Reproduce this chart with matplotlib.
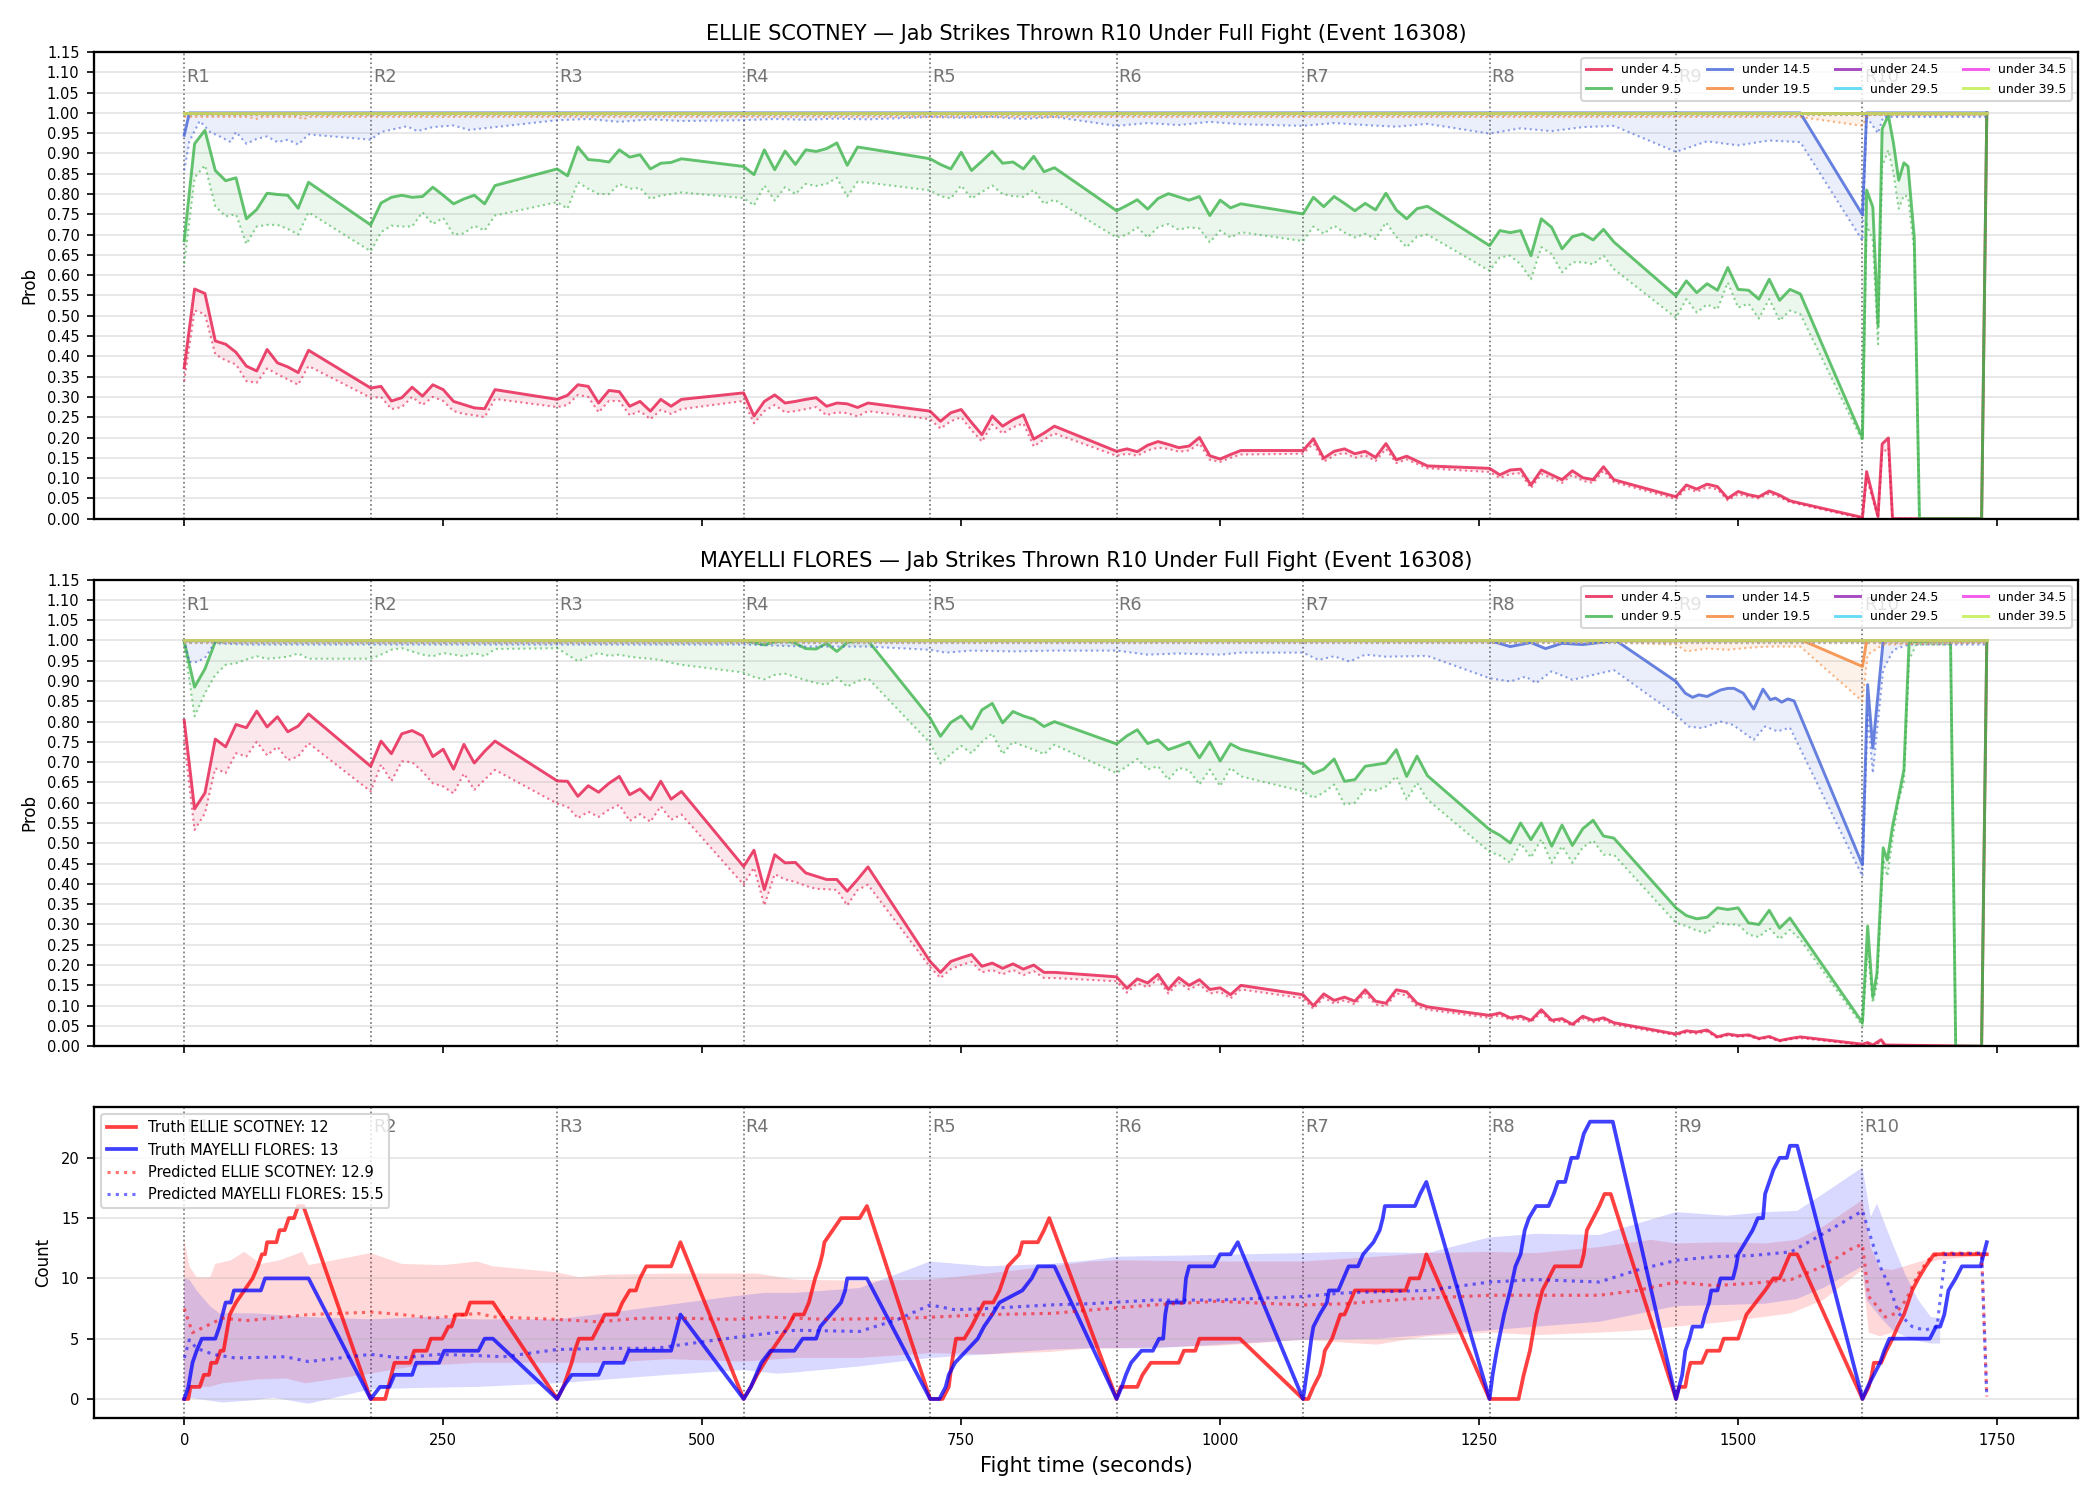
import matplotlib
matplotlib.use("Agg")
import matplotlib.pyplot as plt
import matplotlib.transforms as mtransforms
import numpy as np

FIGHTERS = ["ELLIE SCOTNEY", "MAYELLI FLORES"]
EVENT_ID = 16308
TRUTH_FINAL = [12, 13]
PRED_FINAL = [12.9, 15.5]

LINES = [4.5, 9.5, 14.5, 19.5, 24.5, 29.5, 34.5, 39.5]
LINE_COLORS = ["#e6194B", "#3cb44b", "#4363d8", "#f58231",
               "#911eb4", "#42d4f4", "#f032e6", "#bfef45"]

ROUND_STARTS = [0, 180, 360, 540, 720, 900, 1080, 1260, 1440, 1620]

# seconds into rounds 1-9 where the live probabilities were sampled
OFFSETS = [0, 10, 20, 30, 40, 50, 60, 70, 80, 90, 100, 110, 120]

# ---------------- ELLIE SCOTNEY (top panel) ----------------
scotney_u4_hi = [
    [0.372, 0.566, 0.555, 0.438, 0.43, 0.41, 0.376, 0.364, 0.417, 0.384, 0.374, 0.36, 0.415],
    [0.322, 0.326, 0.29, 0.298, 0.324, 0.302, 0.33, 0.318, 0.289, 0.281, 0.273, 0.271, 0.318],
    [0.294, 0.304, 0.330, 0.326, 0.285, 0.316, 0.313, 0.277, 0.289, 0.265, 0.294, 0.277, 0.294],
    [0.31, 0.253, 0.289, 0.305, 0.285, 0.289, 0.294, 0.298, 0.277, 0.285, 0.283, 0.274, 0.285],
    [0.265, 0.24, 0.261, 0.269, 0.237, 0.207, 0.253, 0.228, 0.244, 0.256, 0.196, 0.211, 0.228],
    [0.166, 0.172, 0.165, 0.181, 0.19, 0.183, 0.175, 0.179, 0.2, 0.155, 0.147, 0.158, 0.168],
    [0.168, 0.197, 0.149, 0.166, 0.172, 0.16, 0.166, 0.151, 0.185, 0.145, 0.154, 0.142, 0.13],
    [0.124, 0.108, 0.12, 0.122, 0.083, 0.12, 0.108, 0.096, 0.118, 0.101, 0.096, 0.128, 0.096],
    [0.054, 0.083, 0.073, 0.085, 0.079, 0.05, 0.067, 0.059, 0.054, 0.068, 0.058, 0.044, 0.038],
]
scotney_u4_hi_r10 = [(1620, 0.003), (1624, 0.116), (1635, 0.005), (1639, 0.184), (1645, 0.199),
                     (1649, 0.0), (1735, 0.0), (1740, 1.0)]
scotney_u4_lo = [
    [0.339, 0.513, 0.504, 0.405, 0.39, 0.38, 0.339, 0.335, 0.37, 0.356, 0.343, 0.33, 0.376],
    [0.298, 0.30, 0.27, 0.275, 0.30, 0.28, 0.30, 0.29, 0.265, 0.258, 0.255, 0.25, 0.295],
    [0.275, 0.28, 0.305, 0.30, 0.262, 0.29, 0.29, 0.255, 0.265, 0.245, 0.268, 0.258, 0.27],
    [0.29, 0.235, 0.265, 0.28, 0.262, 0.265, 0.27, 0.275, 0.255, 0.262, 0.26, 0.252, 0.265],
    [0.245, 0.222, 0.24, 0.25, 0.218, 0.19, 0.232, 0.21, 0.225, 0.235, 0.178, 0.195, 0.21],
    [0.155, 0.16, 0.155, 0.168, 0.175, 0.172, 0.165, 0.168, 0.185, 0.145, 0.14, 0.15, 0.158],
    [0.16, 0.185, 0.14, 0.156, 0.162, 0.15, 0.156, 0.142, 0.172, 0.137, 0.146, 0.135, 0.124],
    [0.115, 0.10, 0.11, 0.112, 0.075, 0.11, 0.1, 0.088, 0.108, 0.093, 0.088, 0.118, 0.09],
    [0.048, 0.075, 0.066, 0.077, 0.072, 0.045, 0.06, 0.054, 0.05, 0.062, 0.053, 0.04, 0.035],
]
scotney_u4_lo_r10 = [(1620, 0.0), (1624, 0.1), (1635, 0.003), (1639, 0.16), (1645, 0.175),
                     (1649, 0.0), (1735, 0.0), (1740, 0.99)]

scotney_u9_hi = [
    [0.685, 0.924, 0.957, 0.858, 0.833, 0.84, 0.739, 0.762, 0.802, 0.799, 0.797, 0.765, 0.829],
    [0.724, 0.778, 0.792, 0.797, 0.792, 0.794, 0.817, 0.797, 0.776, 0.788, 0.797, 0.776, 0.821],
    [0.862, 0.845, 0.916, 0.885, 0.883, 0.879, 0.909, 0.891, 0.897, 0.862, 0.876, 0.878, 0.887],
    [0.868, 0.848, 0.909, 0.86, 0.906, 0.873, 0.909, 0.905, 0.912, 0.926, 0.871, 0.916, 0.912],
    [0.887, 0.873, 0.862, 0.903, 0.858, 0.881, 0.905, 0.876, 0.879, 0.862, 0.893, 0.855, 0.865],
    [0.759, 0.772, 0.786, 0.763, 0.789, 0.801, 0.793, 0.785, 0.794, 0.747, 0.785, 0.766, 0.776],
    [0.751, 0.792, 0.769, 0.794, 0.777, 0.759, 0.777, 0.761, 0.802, 0.761, 0.739, 0.764, 0.770],
    [0.673, 0.71, 0.705, 0.71, 0.648, 0.739, 0.718, 0.665, 0.695, 0.702, 0.687, 0.713, 0.682],
    [0.549, 0.586, 0.557, 0.579, 0.563, 0.619, 0.565, 0.563, 0.541, 0.59, 0.538, 0.565, 0.554],
]
scotney_u9_hi_r10 = [(1620, 0.199), (1624, 0.81), (1630, 0.768), (1635, 0.475), (1639, 0.961),
                     (1645, 0.994), (1650, 0.924), (1655, 0.834), (1660, 0.877), (1664, 0.868),
                     (1670, 0.693), (1675, 0.0), (1735, 0.0), (1740, 1.0)]
scotney_u9_lo = [
    [0.628, 0.84, 0.871, 0.77, 0.745, 0.75, 0.677, 0.72, 0.724, 0.724, 0.714, 0.70, 0.755],
    [0.659, 0.706, 0.722, 0.72, 0.72, 0.755, 0.726, 0.741, 0.70, 0.703, 0.722, 0.71, 0.747],
    [0.78, 0.764, 0.829, 0.813, 0.80, 0.80, 0.825, 0.813, 0.815, 0.788, 0.796, 0.80, 0.804],
    [0.79, 0.772, 0.821, 0.784, 0.817, 0.80, 0.825, 0.82, 0.825, 0.84, 0.794, 0.83, 0.828],
    [0.809, 0.795, 0.789, 0.821, 0.789, 0.805, 0.821, 0.80, 0.795, 0.793, 0.81, 0.776, 0.786],
    [0.693, 0.70, 0.718, 0.693, 0.718, 0.726, 0.712, 0.718, 0.715, 0.681, 0.71, 0.693, 0.706],
    [0.684, 0.72, 0.702, 0.722, 0.705, 0.693, 0.702, 0.689, 0.73, 0.695, 0.669, 0.695, 0.70],
    [0.611, 0.644, 0.648, 0.627, 0.59, 0.669, 0.652, 0.607, 0.632, 0.632, 0.627, 0.648, 0.615],
    [0.495, 0.541, 0.508, 0.528, 0.516, 0.582, 0.52, 0.53, 0.493, 0.541, 0.488, 0.513, 0.504],
]
scotney_u9_lo_r10 = [(1620, 0.191), (1624, 0.726), (1630, 0.685), (1635, 0.43), (1639, 0.867),
                     (1645, 0.908), (1650, 0.85), (1655, 0.764), (1660, 0.797), (1664, 0.793),
                     (1670, 0.66), (1675, 0.0), (1735, 0.0), (1740, 0.99)]

scotney_u14_hi = [(0, 0.945), (5, 1.0), (1560, 1.0), (1620, 0.749), (1624, 1.0), (1740, 1.0)]
scotney_u14_lo = [
    (0, 0.858), (5, 0.93), (15, 0.98), (25, 0.953), (35, 0.941), (45, 0.928), (50, 0.953),
    (60, 0.924), (70, 0.936), (80, 0.942), (90, 0.928), (100, 0.934), (110, 0.922), (120, 0.947),
    (180, 0.934), (190, 0.953), (215, 0.967), (225, 0.955), (240, 0.965), (260, 0.969),
    (275, 0.958), (300, 0.965), (360, 0.982), (390, 0.985), (420, 0.978), (450, 0.984),
    (480, 0.98), (540, 0.982), (570, 0.985), (600, 0.983), (630, 0.986), (660, 0.984),
    (720, 0.99), (750, 0.988), (780, 0.99), (810, 0.985), (840, 0.99), (900, 0.968),
    (930, 0.975), (960, 0.97), (990, 0.978), (1020, 0.972), (1080, 0.968), (1110, 0.975),
    (1140, 0.97), (1170, 0.966), (1200, 0.973), (1260, 0.949), (1290, 0.962), (1320, 0.955),
    (1350, 0.965), (1380, 0.968), (1440, 0.904), (1470, 0.93), (1500, 0.92), (1530, 0.932),
    (1560, 0.928), (1620, 0.685), (1624, 0.99), (1635, 0.95), (1640, 0.99), (1740, 0.99),
]
scotney_u19_hi = [(0, 1.0), (1740, 1.0)]
scotney_u19_lo = [(0, 0.99), (60, 0.99), (70, 0.985), (75, 0.99), (110, 0.99), (115, 0.984),
                  (120, 0.99), (1560, 0.99), (1620, 0.968), (1625, 0.995), (1740, 0.995)]

# ---------------- MAYELLI FLORES (middle panel) ----------------
flores_u4_hi = [
    [0.803, 0.585, 0.624, 0.757, 0.738, 0.793, 0.785, 0.826, 0.787, 0.812, 0.775, 0.789, 0.819],
    [0.69, 0.752, 0.721, 0.77, 0.778, 0.765, 0.714, 0.732, 0.683, 0.744, 0.698, 0.727, 0.752],
    [0.654, 0.653, 0.616, 0.642, 0.626, 0.648, 0.665, 0.62, 0.634, 0.608, 0.653, 0.609, 0.628],
    [0.443, 0.483, 0.386, 0.472, 0.452, 0.453, 0.427, 0.419, 0.411, 0.411, 0.382, 0.411, 0.442],
    [0.209, 0.182, 0.209, 0.218, 0.226, 0.197, 0.205, 0.192, 0.203, 0.19, 0.2, 0.182, 0.182],
    [0.171, 0.143, 0.166, 0.156, 0.177, 0.14, 0.169, 0.15, 0.164, 0.14, 0.144, 0.127, 0.15],
    [0.127, 0.1, 0.129, 0.113, 0.121, 0.111, 0.139, 0.111, 0.106, 0.139, 0.134, 0.106, 0.097],
    [0.076, 0.082, 0.07, 0.074, 0.064, 0.09, 0.064, 0.068, 0.054, 0.074, 0.064, 0.07, 0.058],
    [0.03, 0.038, 0.035, 0.04, 0.023, 0.03, 0.026, 0.028, 0.019, 0.024, 0.014, 0.019, 0.023],
]
flores_u4_hi_r10 = [(1620, 0.005), (1625, 0.009), (1630, 0.003), (1638, 0.016), (1642, 0.003),
                    (1735, 0.0), (1740, 1.0)]
flores_u4_lo = [
    [0.75, 0.533, 0.574, 0.685, 0.673, 0.722, 0.714, 0.75, 0.717, 0.738, 0.705, 0.714, 0.747],
    [0.628, 0.694, 0.653, 0.702, 0.70, 0.677, 0.648, 0.64, 0.623, 0.672, 0.632, 0.657, 0.681],
    [0.598, 0.59, 0.562, 0.578, 0.565, 0.583, 0.595, 0.555, 0.572, 0.553, 0.591, 0.558, 0.571],
    [0.398, 0.44, 0.347, 0.424, 0.411, 0.405, 0.395, 0.388, 0.387, 0.385, 0.347, 0.385, 0.398],
    [0.195, 0.168, 0.19, 0.2, 0.208, 0.182, 0.188, 0.177, 0.188, 0.175, 0.185, 0.168, 0.168],
    [0.16, 0.132, 0.155, 0.145, 0.165, 0.13, 0.157, 0.14, 0.152, 0.13, 0.134, 0.118, 0.14],
    [0.118, 0.092, 0.12, 0.105, 0.113, 0.103, 0.13, 0.103, 0.098, 0.13, 0.125, 0.098, 0.09],
    [0.07, 0.076, 0.065, 0.068, 0.059, 0.083, 0.059, 0.063, 0.05, 0.068, 0.059, 0.065, 0.053],
    [0.027, 0.034, 0.031, 0.036, 0.02, 0.027, 0.023, 0.025, 0.017, 0.021, 0.012, 0.017, 0.02],
]
flores_u4_lo_r10 = [(1620, 0.003), (1625, 0.006), (1630, 0.002), (1638, 0.01), (1642, 0.002),
                    (1735, 0.0), (1740, 0.99)]

flores_u9_hi = [
    [0.998, 0.885, 0.93, 0.997, 1.0, 1.0, 1.0, 1.0, 1.0, 1.0, 1.0, 1.0, 1.0],
    [1.0, 1.0, 1.0, 1.0, 1.0, 1.0, 1.0, 1.0, 1.0, 1.0, 1.0, 1.0, 1.0],
    [1.0, 1.0, 1.0, 1.0, 1.0, 1.0, 1.0, 1.0, 1.0, 1.0, 1.0, 1.0, 1.0],
    [1.0, 0.995, 0.989, 0.997, 1.0, 0.993, 0.98, 0.979, 0.993, 0.973, 0.995, 1.0, 1.0],
    [0.809, 0.764, 0.798, 0.814, 0.782, 0.829, 0.845, 0.797, 0.825, 0.814, 0.806, 0.788, 0.8],
    [0.745, 0.765, 0.78, 0.746, 0.755, 0.731, 0.74, 0.75, 0.711, 0.75, 0.703, 0.745, 0.732],
    [0.696, 0.672, 0.683, 0.708, 0.653, 0.657, 0.69, 0.694, 0.698, 0.731, 0.665, 0.715, 0.667],
    [0.534, 0.52, 0.501, 0.55, 0.509, 0.55, 0.493, 0.545, 0.495, 0.536, 0.557, 0.518, 0.513],
    [0.341, 0.322, 0.314, 0.318, 0.341, 0.337, 0.341, 0.304, 0.3, 0.335, 0.291, 0.316, 0.279],
]
flores_u9_hi_r10 = [(1620, 0.058), (1625, 0.296), (1630, 0.12), (1634, 0.181), (1640, 0.489),
                    (1644, 0.459), (1649, 0.542), (1655, 0.616), (1660, 0.681), (1665, 0.997),
                    (1705, 1.0), (1710, 0.0), (1735, 0.0), (1740, 1.0)]
flores_u9_lo = [
    [0.99, 0.813, 0.87, 0.915, 0.94, 0.944, 0.953, 0.961, 0.955, 0.957, 0.96, 0.968, 0.955],
    [0.955, 0.965, 0.977, 0.981, 0.973, 0.965, 0.961, 0.969, 0.965, 0.961, 0.969, 0.961, 0.979],
    [0.981, 0.965, 0.949, 0.96, 0.969, 0.962, 0.965, 0.96, 0.957, 0.955, 0.952, 0.945, 0.94],
    [0.921, 0.91, 0.904, 0.915, 0.918, 0.91, 0.902, 0.895, 0.891, 0.909, 0.886, 0.9, 0.907],
    [0.747, 0.697, 0.72, 0.74, 0.722, 0.75, 0.771, 0.72, 0.75, 0.74, 0.731, 0.72, 0.743],
    [0.673, 0.69, 0.708, 0.682, 0.69, 0.657, 0.686, 0.68, 0.645, 0.682, 0.641, 0.686, 0.665],
    [0.628, 0.612, 0.625, 0.645, 0.596, 0.6, 0.633, 0.63, 0.64, 0.665, 0.608, 0.649, 0.608],
    [0.479, 0.47, 0.452, 0.5, 0.465, 0.51, 0.452, 0.493, 0.452, 0.49, 0.507, 0.472, 0.472],
    [0.304, 0.296, 0.285, 0.279, 0.304, 0.3, 0.3, 0.275, 0.269, 0.291, 0.264, 0.287, 0.263],
]
flores_u9_lo_r10 = [(1620, 0.05), (1625, 0.238), (1630, 0.107), (1634, 0.15), (1640, 0.46),
                    (1644, 0.419), (1649, 0.509), (1655, 0.608), (1660, 0.65), (1665, 0.952),
                    (1672, 0.99), (1705, 0.99), (1710, 0.0), (1735, 0.0), (1740, 0.99)]

flores_u14_hi = [(0, 1.0), (1260, 1.0), (1280, 0.985), (1300, 0.995), (1314, 0.98), (1330, 0.993),
                 (1350, 0.99), (1382, 1.0), (1440, 0.899), (1449, 0.87), (1456, 0.86),
                 (1462, 0.866), (1470, 0.862), (1483, 0.878), (1490, 0.882), (1496, 0.882),
                 (1505, 0.87), (1515, 0.831), (1524, 0.88), (1531, 0.854), (1536, 0.858),
                 (1542, 0.848), (1548, 0.856), (1554, 0.851), (1620, 0.447), (1625, 0.891),
                 (1630, 0.735), (1640, 1.0), (1740, 1.0)]
flores_u14_lo = [
    (0, 1.0), (5, 0.947), (12, 0.947), (20, 0.957), (29, 0.993), (60, 0.99), (120, 0.99),
    (180, 0.99), (360, 0.99), (540, 0.99), (600, 0.985), (660, 0.985), (720, 0.977),
    (735, 0.97), (760, 0.975), (800, 0.973), (840, 0.975), (900, 0.975), (930, 0.965),
    (960, 0.968), (1000, 0.965), (1020, 0.97), (1080, 0.97), (1095, 0.952), (1110, 0.961),
    (1125, 0.948), (1140, 0.965), (1160, 0.96), (1200, 0.962), (1260, 0.907), (1280, 0.899),
    (1295, 0.911), (1305, 0.895), (1320, 0.924), (1340, 0.903), (1380, 0.927), (1440, 0.817),
    (1452, 0.788), (1465, 0.784), (1483, 0.8), (1495, 0.792), (1515, 0.755), (1526, 0.788),
    (1538, 0.776), (1550, 0.785), (1620, 0.419), (1625, 0.817), (1630, 0.673), (1640, 0.928),
    (1650, 0.977), (1665, 0.99), (1740, 0.99),
]
flores_u19_hi = [(0, 1.0), (1562, 1.0), (1620, 0.936), (1624, 1.0), (1740, 1.0)]
flores_u19_lo = [(0, 0.995), (1380, 0.995), (1440, 0.99), (1450, 0.973), (1470, 0.98),
                 (1490, 0.977), (1510, 0.982), (1530, 0.985), (1560, 0.985), (1620, 0.85),
                 (1625, 0.965), (1640, 0.99), (1740, 0.995)]

# lines 24.5 and up sit at 1.0 for the whole fight
FLAT_HI = [(0, 1.0), (1740, 1.0)]
FLAT_LO = [(0, 0.995), (1740, 0.995)]

# ---------------- counts (bottom panel) ----------------
scotney_truth = [
    (0, 0), (4, 0), (6, 1), (15, 1), (19, 2), (24, 2), (26, 3), (31, 3), (35, 4), (38, 4), (40, 5),
    (44, 7), (50, 8), (58, 9), (66, 10), (71, 11), (75, 12), (78, 12), (80, 13), (89, 13), (92, 14),
    (97, 14), (101, 15), (106, 15), (110, 16), (115, 16),
    (180, 0), (194, 0), (197, 1), (200, 2), (203, 3), (218, 3), (222, 4), (234, 4), (238, 5),
    (249, 5), (255, 6), (258, 6), (262, 7), (272, 7), (276, 8), (298, 8),
    (360, 0), (366, 1), (370, 2), (374, 3), (377, 4), (381, 5), (394, 5), (400, 6), (406, 7),
    (418, 7), (423, 8), (430, 9), (436, 9), (440, 10), (446, 11), (470, 11), (479, 13),
    (540, 0), (547, 1), (553, 2), (560, 3), (567, 4), (575, 5), (583, 6), (589, 7), (598, 7),
    (603, 8), (606, 9), (609, 10), (613, 11), (616, 12), (618, 13), (626, 14), (634, 15),
    (652, 15), (659, 16),
    (720, 0), (732, 0), (738, 1), (741, 3), (745, 5), (753, 5), (760, 6), (766, 7), (772, 8),
    (781, 8), (787, 9), (791, 10), (795, 11), (806, 12), (809, 13), (824, 13), (830, 14), (835, 15),
    (900, 0), (904, 1), (920, 1), (925, 2), (933, 3), (960, 3), (965, 4), (976, 4), (980, 5),
    (1019, 5),
    (1080, 0), (1085, 0), (1090, 1), (1096, 2), (1099, 3), (1101, 4), (1108, 5), (1112, 6),
    (1116, 7), (1120, 7), (1125, 8), (1130, 9), (1179, 9), (1183, 10), (1192, 10), (1196, 11),
    (1199, 12),
    (1260, 0), (1288, 0), (1293, 2), (1299, 4), (1305, 7), (1311, 9), (1317, 10), (1323, 11),
    (1348, 11), (1351, 12), (1354, 14), (1360, 15), (1366, 16), (1371, 17), (1377, 17),
    (1440, 0), (1443, 1), (1449, 1), (1451, 2), (1454, 3), (1465, 3), (1470, 4), (1482, 4),
    (1486, 5), (1500, 5), (1504, 6), (1508, 7), (1517, 8), (1526, 9), (1534, 10), (1540, 10),
    (1545, 11), (1550, 12), (1557, 12),
    (1620, 0), (1626, 1), (1629, 2), (1631, 3), (1638, 3), (1643, 4), (1649, 5), (1654, 6),
    (1660, 7), (1664, 8), (1668, 9), (1674, 10), (1681, 11), (1689, 12), (1740, 12),
]
flores_truth = [
    (0, 0), (4, 1), (8, 3), (12, 4), (17, 5), (30, 5), (34, 6), (40, 8), (45, 8), (48, 9), (74, 9),
    (78, 10), (120, 10),
    (180, 0), (189, 1), (198, 1), (203, 2), (220, 2), (224, 3), (246, 3), (251, 4), (284, 4),
    (290, 5), (298, 5),
    (360, 0), (366, 1), (374, 2), (400, 2), (405, 3), (424, 3), (429, 4), (470, 4), (479, 7),
    (540, 0), (547, 1), (552, 2), (557, 3), (566, 4), (589, 4), (597, 5), (610, 5), (614, 6),
    (624, 7), (634, 8), (638, 9), (640, 10), (659, 10),
    (720, 0), (729, 0), (735, 1), (738, 2), (744, 3), (755, 4), (766, 5), (772, 6), (780, 7),
    (787, 8), (809, 9), (818, 10), (824, 11), (840, 11),
    (900, 0), (905, 1), (909, 2), (914, 3), (924, 4), (935, 4), (941, 5), (945, 5), (947, 7),
    (949, 8), (965, 8), (967, 10), (970, 11), (994, 11), (1000, 12), (1010, 12), (1017, 13),
    (1080, 0), (1085, 3), (1088, 5), (1090, 6), (1096, 7), (1103, 8), (1105, 9), (1114, 9),
    (1119, 10), (1124, 11), (1133, 11), (1138, 12), (1148, 13), (1154, 14), (1157, 15),
    (1159, 16), (1188, 16), (1193, 17), (1199, 18),
    (1260, 0), (1263, 2), (1267, 4), (1274, 7), (1280, 9), (1285, 11), (1290, 12), (1294, 14),
    (1298, 15), (1305, 16), (1317, 16), (1322, 17), (1326, 18), (1333, 18), (1336, 19),
    (1339, 20), (1345, 20), (1348, 21), (1351, 22), (1357, 23), (1379, 23),
    (1440, 0), (1443, 1), (1446, 2), (1449, 4), (1453, 5), (1456, 6), (1465, 6), (1468, 7),
    (1472, 8), (1474, 9), (1480, 9), (1483, 10), (1495, 10), (1498, 11), (1500, 12), (1507, 13),
    (1514, 14), (1519, 15), (1524, 15), (1526, 17), (1530, 18), (1534, 19), (1540, 20),
    (1547, 20), (1550, 21), (1557, 21),
    (1620, 0), (1625, 1), (1631, 2), (1637, 3), (1641, 4), (1646, 5), (1685, 5), (1691, 6),
    (1695, 6), (1699, 7), (1703, 9), (1710, 10), (1716, 11), (1734, 11), (1740, 13),
]

scotney_pred = [
    (0, 7.5), (8, 5.5), (20, 6.0), (37, 6.7), (60, 6.5), (98, 6.8), (120, 7.0), (181, 7.2),
    (210, 7.0), (240, 6.7), (283, 7.1), (300, 6.8), (360, 6.6), (400, 6.4), (440, 6.7),
    (480, 6.7), (530, 6.6), (560, 6.8), (620, 6.6), (700, 6.7), (775, 7.0), (838, 7.1),
    (878, 7.4), (936, 7.8), (997, 8.1), (1080, 7.8), (1120, 7.9), (1182, 8.3), (1260, 8.6),
    (1366, 8.6), (1403, 9.0), (1440, 9.7), (1477, 9.4), (1514, 9.6), (1551, 9.9), (1582, 11.0),
    (1612, 12.6), (1620, 12.8), (1626, 8.5), (1634, 7.7), (1642, 6.8), (1652, 7.1), (1662, 8.2),
    (1674, 10.4), (1686, 11.8), (1698, 12.1), (1735, 12.1), (1740, 0.2),
]
scotney_pred_hi = [
    (0, 13.3), (5, 11.0), (12, 10.1), (25, 10.1), (30, 11.2), (45, 11.5), (58, 12.2), (74, 11.2),
    (92, 11.5), (114, 12.2), (120, 11.1), (180, 12.1), (210, 11.2), (250, 11.1), (283, 11.4),
    (298, 11.0), (360, 10.5), (381, 10.1), (406, 10.3), (467, 10.4), (553, 10.4), (590, 9.9),
    (652, 9.8), (720, 9.9), (775, 10.4), (836, 11.0), (874, 11.4), (900, 11.5), (997, 11.4),
    (1080, 11.4), (1151, 11.8), (1200, 12.1), (1260, 12.2), (1305, 12.1), (1366, 12.6),
    (1416, 13.2), (1440, 12.9), (1489, 13.0), (1526, 12.9), (1557, 13.2), (1582, 14.3),
    (1620, 16.5), (1628, 12.6), (1637, 10.8), (1649, 10.7), (1668, 11.2), (1680, 11.5),
    (1692, 11.8), (1735, 12.1),
]
scotney_pred_lo = [
    (0, 0.8), (5, 1.0), (24, 1.0), (37, 1.3), (68, 1.6), (98, 1.7), (117, 1.3), (180, 2.1),
    (221, 2.7), (283, 3.0), (360, 3.0), (406, 3.0), (467, 3.3), (540, 3.1), (590, 3.4),
    (652, 3.4), (720, 3.8), (775, 3.7), (836, 3.9), (874, 4.2), (900, 4.2), (997, 4.4),
    (1080, 4.9), (1151, 4.5), (1200, 5.2), (1260, 5.5), (1305, 5.3), (1366, 5.5), (1409, 5.7),
    (1440, 6.0), (1489, 6.4), (1551, 7.1), (1582, 8.2), (1620, 10.7), (1626, 5.5), (1637, 5.2),
    (1649, 5.5), (1668, 9.3), (1680, 11.2), (1692, 11.5), (1735, 11.9),
]
flores_pred = [
    (0, 3.4), (5, 4.9), (12, 4.2), (28, 3.7), (49, 3.4), (98, 3.5), (120, 3.1), (180, 3.7),
    (209, 3.4), (246, 3.7), (283, 3.6), (308, 3.5), (360, 4.1), (406, 4.2), (455, 4.2),
    (480, 4.5), (540, 5.2), (590, 5.7), (652, 5.6), (689, 6.6), (720, 7.8), (744, 7.4),
    (775, 7.5), (836, 7.8), (874, 7.9), (936, 8.2), (997, 8.2), (1080, 8.5), (1120, 8.8),
    (1200, 9.0), (1260, 9.7), (1305, 9.9), (1366, 9.7), (1403, 10.7), (1440, 11.5),
    (1477, 11.8), (1514, 11.9), (1551, 12.2), (1582, 13.7), (1620, 15.6), (1628, 13.4),
    (1637, 11.0), (1646, 9.3), (1655, 7.1), (1668, 6.0), (1680, 5.7), (1692, 6.0),
    (1700, 12.0), (1735, 12.1), (1740, 0.2),
]
flores_pred_hi = [
    (0, 10.0), (5, 9.9), (12, 9.0), (25, 7.7), (34, 7.1), (68, 7.1), (117, 6.8), (180, 6.6),
    (234, 6.8), (283, 6.6), (360, 6.6), (406, 7.1), (467, 7.8), (529, 8.5), (560, 8.8),
    (590, 8.8), (652, 9.2), (720, 11.4), (775, 11.0), (836, 11.2), (874, 11.5), (900, 11.8),
    (967, 11.9), (1080, 12.1), (1120, 12.2), (1200, 12.1), (1260, 13.4), (1305, 13.7),
    (1366, 13.6), (1440, 15.5), (1489, 15.2), (1526, 15.5), (1557, 15.6), (1582, 17.0),
    (1620, 19.2), (1628, 15.1), (1634, 16.2), (1649, 12.9), (1661, 10.4), (1674, 8.2),
    (1686, 6.8), (1695, 6.7),
]
flores_pred_lo = [
    (0, 0.0), (5, 0.1), (37, -0.3), (68, -0.1), (86, 0.1), (120, -0.4), (180, 0.8), (221, 0.9),
    (283, 1.0), (360, 1.3), (406, 1.6), (467, 2.0), (540, 2.4), (572, 2.1), (590, 2.2),
    (652, 2.7), (720, 3.4), (775, 3.7), (836, 4.1), (874, 4.2), (936, 4.2), (997, 4.5),
    (1080, 4.9), (1151, 5.0), (1200, 5.3), (1260, 5.7), (1305, 6.0), (1366, 6.4), (1440, 7.7),
    (1489, 7.8), (1526, 7.9), (1557, 8.3), (1582, 9.2), (1620, 11.0), (1624, 8.2), (1637, 6.8),
    (1649, 5.7), (1668, 4.9), (1686, 4.6), (1695, 4.6),
]


def unzip(pairs):
    t, v = zip(*pairs)
    return np.array(t, dtype=float), np.array(v, dtype=float)


def from_rounds(rounds, r10):
    pts = []
    for start, vals in zip(ROUND_STARTS, rounds):
        pts += [(start + o, v) for o, v in zip(OFFSETS, vals)]
    return unzip(pts + r10)


def band(ax, hi, lo, color, alpha):
    th, vh = hi
    tl, vl = lo
    ax.fill(np.r_[th, tl[::-1]], np.r_[vh, vl[::-1]], color=color, alpha=alpha, lw=0)


def mark_rounds(ax):
    trans = mtransforms.blended_transform_factory(ax.transData, ax.transAxes)
    for i, s in enumerate(ROUND_STARTS):
        ax.axvline(s, color="0.3", ls=":", lw=0.8, alpha=0.8, zorder=0.5)
        ax.text(s + 2, 0.965, f"R{i + 1}", transform=trans, ha="left", va="top",
                fontsize=8.5, color="0.45")


def prob_panel(ax, name, series):
    for thr, color, (hi, lo) in zip(LINES, LINE_COLORS, series):
        band(ax, hi, lo, color, 0.1)
        ax.plot(hi[0], hi[1], color=color, lw=1.4, alpha=0.8, label=f"under {thr}")
        ax.plot(lo[0], lo[1], color=color, lw=1.0, ls=":", alpha=0.6)
    mark_rounds(ax)
    ax.set_ylim(0, 1.15)
    ax.set_yticks(np.arange(0, 1.151, 0.05))
    ax.yaxis.set_major_formatter(matplotlib.ticker.FormatStrFormatter("%.2f"))
    ax.set_ylabel("Prob", fontsize=8)
    ax.set_title(f"{name} \u2014 Jab Strikes Thrown R10 Under Full Fight (Event {EVENT_ID})",
                 fontsize=10)
    ax.grid(axis="y", color="#b0b0b0", alpha=0.35, lw=0.8)
    ax.legend(loc="upper right", ncol=4, fontsize=6)


flat = (unzip(FLAT_HI), unzip(FLAT_LO))
scotney_series = [
    (from_rounds(scotney_u4_hi, scotney_u4_hi_r10), from_rounds(scotney_u4_lo, scotney_u4_lo_r10)),
    (from_rounds(scotney_u9_hi, scotney_u9_hi_r10), from_rounds(scotney_u9_lo, scotney_u9_lo_r10)),
    (unzip(scotney_u14_hi), unzip(scotney_u14_lo)),
    (unzip(scotney_u19_hi), unzip(scotney_u19_lo)),
    flat, flat, flat, flat,
]
flores_series = [
    (from_rounds(flores_u4_hi, flores_u4_hi_r10), from_rounds(flores_u4_lo, flores_u4_lo_r10)),
    (from_rounds(flores_u9_hi, flores_u9_hi_r10), from_rounds(flores_u9_lo, flores_u9_lo_r10)),
    (unzip(flores_u14_hi), unzip(flores_u14_lo)),
    (unzip(flores_u19_hi), unzip(flores_u19_lo)),
    flat, flat, flat, flat,
]

fig, axes = plt.subplots(3, 1, figsize=(14, 10), dpi=150, sharex=True,
                         gridspec_kw=dict(height_ratios=[3, 3, 2]))
fig.subplots_adjust(left=0.0448, right=0.9895, top=0.9653, bottom=0.0545, hspace=0.147)

prob_panel(axes[0], FIGHTERS[0], scotney_series)
prob_panel(axes[1], FIGHTERS[1], flores_series)

# counts panel
ax = axes[2]
band(ax, unzip(scotney_pred_hi), unzip(scotney_pred_lo), "red", 0.15)
band(ax, unzip(flores_pred_hi), unzip(flores_pred_lo), "blue", 0.15)
t, v = unzip(scotney_truth)
ax.plot(t, v, color="red", lw=1.8, alpha=0.75, label=f"Truth {FIGHTERS[0]}: {TRUTH_FINAL[0]}")
t, v = unzip(flores_truth)
ax.plot(t, v, color="blue", lw=1.8, alpha=0.75, label=f"Truth {FIGHTERS[1]}: {TRUTH_FINAL[1]}")
t, v = unzip(scotney_pred)
ax.plot(t, v, color="red", lw=1.5, ls=":", alpha=0.55,
        label=f"Predicted {FIGHTERS[0]}: {PRED_FINAL[0]}")
t, v = unzip(flores_pred)
ax.plot(t, v, color="blue", lw=1.5, ls=":", alpha=0.55,
        label=f"Predicted {FIGHTERS[1]}: {PRED_FINAL[1]}")
mark_rounds(ax)
ax.set_ylim(-1.6, 24.2)
ax.set_ylabel("Count", fontsize=8)
ax.grid(axis="y", color="#b0b0b0", alpha=0.35, lw=0.8)
ax.legend(loc="upper left", fontsize=7)
ax.set_xlabel("Fight time (seconds)", fontsize=10)
ax.set_xlim(-87, 1828)

for a in axes:
    a.tick_params(labelsize=7)
    for sp in a.spines.values():
        sp.set_linewidth(1.1)

fig.savefig("out.png", dpi=150)
